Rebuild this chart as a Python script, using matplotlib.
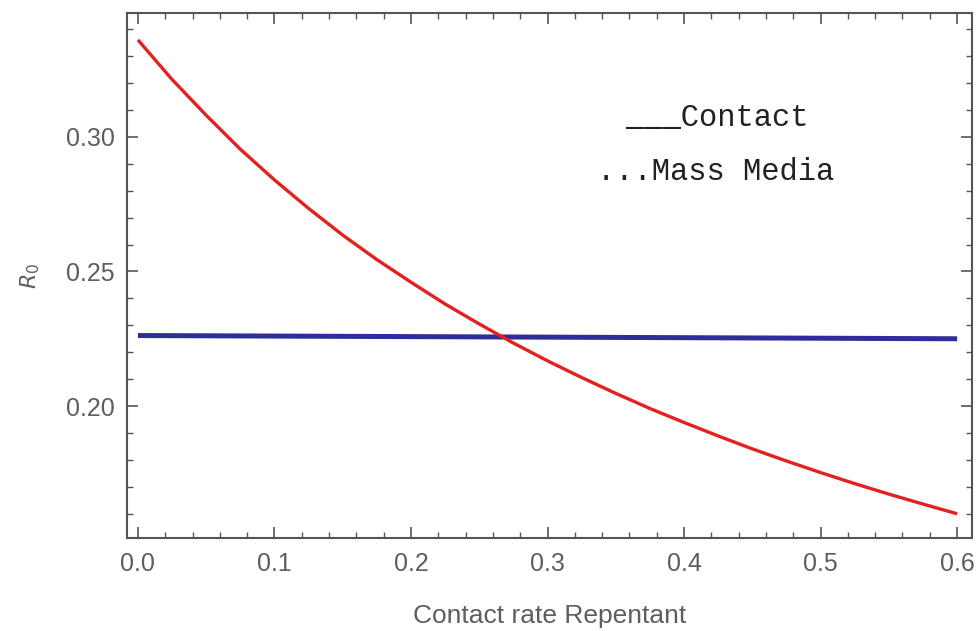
import matplotlib.pyplot as plt
from matplotlib.ticker import MultipleLocator

# contact rate of repentant (x axis)
rate = [0.0, 0.025, 0.05, 0.075, 0.10, 0.125, 0.15, 0.175, 0.20, 0.225, 0.25,
        0.275, 0.30, 0.325, 0.35, 0.375, 0.40, 0.425, 0.45, 0.475, 0.50,
        0.525, 0.55, 0.575, 0.60]
# R0 for contact model (red curve)
r0_contact = [0.336, 0.3213, 0.308, 0.2954, 0.284, 0.2734, 0.2635, 0.2544,
              0.246, 0.2379, 0.2305, 0.2234, 0.2168, 0.2106, 0.2047, 0.1991,
              0.1939, 0.1889, 0.1841, 0.1796, 0.1753, 0.1712, 0.1673, 0.1636,
              0.160]
# R0 for mass media model (blue, almost flat)
rate_media = [0.0, 0.2, 0.4, 0.6]
r0_media = [0.2262, 0.2258, 0.2254, 0.2250]

grey = '#555555'
txt_grey = '#5e5e5e'

fig = plt.figure(figsize=(9.77, 6.31), dpi=100)
ax = fig.add_axes([0.130, 0.1474, 0.865, 0.832])

ax.plot(rate_media, r0_media, color='#2e2e9a', lw=3.6, solid_capstyle='butt')
ax.plot(rate, r0_contact, color='#e3211f', lw=2.4, solid_capstyle='butt')

ax.set_xlim(-0.008, 0.611)
ax.set_ylim(0.151, 0.346)

ax.xaxis.set_major_locator(MultipleLocator(0.1))
ax.xaxis.set_minor_locator(MultipleLocator(0.02))
ax.yaxis.set_major_locator(MultipleLocator(0.05))
ax.yaxis.set_minor_locator(MultipleLocator(0.01))
ax.xaxis.set_major_formatter(plt.FuncFormatter(lambda v, p: f'{v:.1f}'))
ax.yaxis.set_major_formatter(plt.FuncFormatter(lambda v, p: f'{v:.2f}'))

ax.tick_params(which='both', direction='in', top=True, right=True, color=grey,
               labelcolor=txt_grey, labelsize=18)
ax.tick_params(which='major', length=8, width=1.2)
ax.tick_params(which='minor', length=4.5, width=1.0)
ax.tick_params(axis='x', which='major', pad=10)
ax.tick_params(axis='y', which='major', pad=9)
for lab in ax.get_xticklabels() + ax.get_yticklabels():
    lab.set_family('Liberation Sans')
for s in ax.spines.values():
    s.set_color(grey)
    s.set_linewidth(1.5)

ax.set_xlabel('Contact rate Repentant', color=txt_grey, fontsize=19,
              family='Liberation Sans', labelpad=20)
ax.set_ylabel(r'$R_0$', color=txt_grey, fontsize=16, labelpad=17)

ax.text(0.4245, 0.307, '___Contact', family='Liberation Mono', fontsize=22,
        ha='center', va='center', color='#222222')
ax.text(0.4234, 0.287, '...Mass Media', family='Liberation Mono', fontsize=22,
        ha='center', va='center', color='#222222')

fig.savefig('out.png')
